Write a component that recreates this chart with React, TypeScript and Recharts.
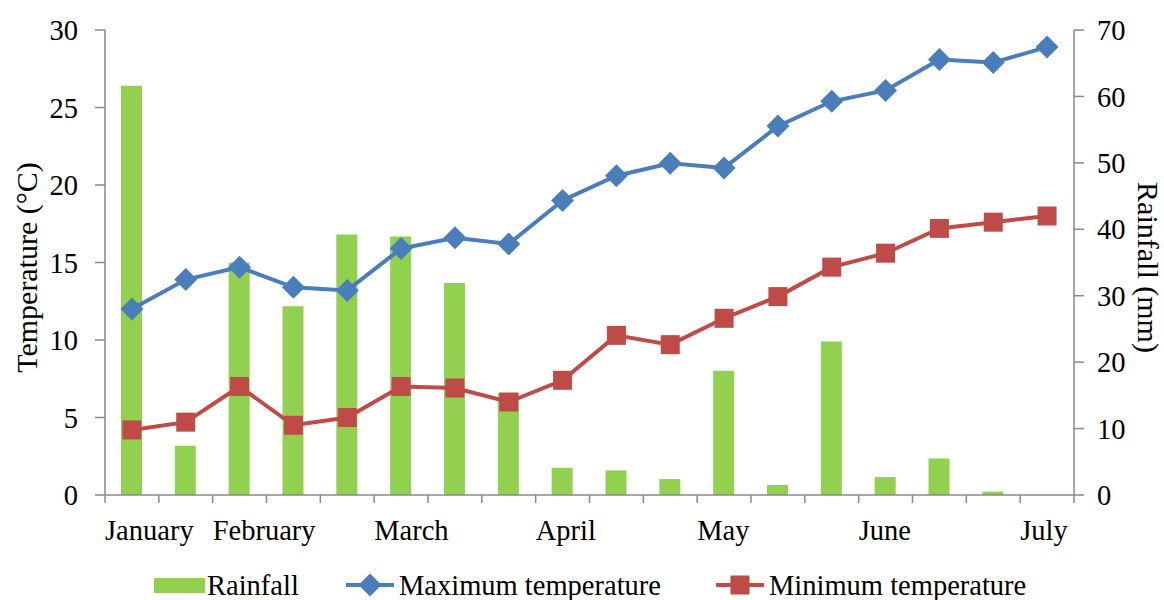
import { ComposedChart, Bar, Line, XAxis, YAxis, Legend } from "recharts";

const periods = ["January", "", "February", "", "", "March", "", "", "April", "", "", "May", "", "", "June", "", "", "July"];
const rainfall = [61.6, 7.4, 35.0, 28.4, 39.2, 38.9, 31.9, 15.3, 4.1, 3.7, 2.4, 18.7, 1.5, 23.1, 2.7, 5.5, 0.5, 0];
const maxTemp = [12.0, 13.9, 14.7, 13.4, 13.2, 15.9, 16.6, 16.2, 19.0, 20.6, 21.4, 21.1, 23.8, 25.4, 26.1, 28.1, 27.9, 28.9];
const minTemp = [4.2, 4.7, 7.0, 4.5, 5.0, 7.0, 6.9, 6.0, 7.4, 10.3, 9.7, 11.4, 12.8, 14.7, 15.6, 17.2, 17.6, 18.0];
const tempTicks = [0, 5, 10, 15, 20, 25, 30];
const rainTicks = [0, 10, 20, 30, 40, 50, 60, 70];

const data = periods.map((label, i) => ({
  slot: i,
  label,
  rainfall: rainfall[i],
  maxTemp: maxTemp[i],
  minTemp: minTemp[i],
}));

const W = 1164;
const H = 600;
const LEFT_W = 105;
const RIGHT_W = 90;
const BAND = (W - LEFT_W - RIGHT_W) / periods.length;

const GREEN = "#92D050";
const BLUE = "#4A7EBB";
const RED = "#BE4B48";
const AXIS = "#888888";
const FONT = "'Liberation Serif', 'Times New Roman', serif";
const FS = 28.5;
const TITLE_FS = 30;

function Diamond(props: any) {
  const { cx, cy } = props;
  if (cx == null || cy == null) return null;
  const r = 11.5;
  return <path d={`M${cx},${cy - r}L${cx + r},${cy}L${cx},${cy + r}L${cx - r},${cy}Z`} fill={BLUE} />;
}

function Square(props: any) {
  const { cx, cy } = props;
  if (cx == null || cy == null) return null;
  const s = 19;
  return <rect x={cx - s / 2} y={cy - s / 2} width={s} height={s} fill={RED} />;
}

function MonthTick(props: any) {
  const { x, y, payload } = props;
  const idx = payload.value;
  const label = periods[idx];
  const half = BAND / 2;
  return (
    <g>
      <line x1={x - half} x2={x - half} y1={y - 8} y2={y} stroke={AXIS} strokeWidth={1.5} />
      {idx === periods.length - 1 && (
        <line x1={x + half} x2={x + half} y1={y - 8} y2={y} stroke={AXIS} strokeWidth={1.5} />
      )}
      {label && (
        <text x={x - half} y={y + 37} textAnchor="start" fontSize={FS} fontFamily={FONT} fill="#000">
          {label}
        </text>
      )}
    </g>
  );
}

function LeftTitle(props: any) {
  const { viewBox } = props;
  const cx = viewBox.x + 26;
  const cy = viewBox.y + viewBox.height / 2 + 5;
  return (
    <text x={cx} y={cy} transform={`rotate(-90, ${cx}, ${cy})`} textAnchor="middle" dominantBaseline="central" fontSize={TITLE_FS} fontFamily={FONT} fill="#000">
      Temperature (°C)
    </text>
  );
}

function RightTitle(props: any) {
  const { viewBox } = props;
  const cx = viewBox.x + 74;
  const cy = viewBox.y + viewBox.height / 2 + 5;
  return (
    <text x={cx} y={cy} transform={`rotate(90, ${cx}, ${cy})`} textAnchor="middle" dominantBaseline="central" fontSize={TITLE_FS} fontFamily={FONT} fill="#000">
      Rainfall (mm)
    </text>
  );
}

function LegendBox() {
  return (
    <svg width={W} height={40} style={{ display: "block" }}>
      <rect x={154} y={18} width={51} height={15} fill={GREEN} />
      <text x={207} y={35} fontSize={FS} fontFamily={FONT} fill="#000">Rainfall</text>
      <line x1={346} x2={394} y1={25} y2={25} stroke={BLUE} strokeWidth={4} />
      <Diamond cx={370} cy={25} />
      <text x={399} y={35} fontSize={FS} fontFamily={FONT} fill="#000">Maximum temperature</text>
      <line x1={716} x2={764} y1={25} y2={25} stroke={RED} strokeWidth={4} />
      <Square cx={740} cy={25} />
      <text x={769} y={35} fontSize={FS} fontFamily={FONT} fill="#000">Minimum temperature</text>
    </svg>
  );
}

export default function App() {
  return (
    <div style={{ position: "absolute", left: 0, top: 0, width: W, height: H, background: "#fff" }}>
      <ComposedChart width={W} height={H} data={data} margin={{ top: 30, right: 0, bottom: 5, left: 0 }}>
        <XAxis
          dataKey="slot"
          type="category"
          interval={0}
          tickLine={false}
          tickSize={8}
          tickMargin={0}
          height={60}
          axisLine={{ stroke: AXIS, strokeWidth: 1.5 }}
          tick={<MonthTick />}
        />
        <YAxis
          yAxisId="left"
          orientation="left"
          domain={[0, 30]}
          ticks={tempTicks}
          interval={0}
          width={LEFT_W}
          tickSize={10}
          tickMargin={17}
          axisLine={{ stroke: AXIS, strokeWidth: 1.5 }}
          tickLine={{ stroke: AXIS, strokeWidth: 1.5 }}
          tick={{ fill: "#000", fontSize: FS, fontFamily: FONT }}
          label={<LeftTitle />}
        />
        <YAxis
          yAxisId="right"
          orientation="right"
          domain={[0, 70]}
          ticks={rainTicks}
          interval={0}
          width={RIGHT_W}
          tickSize={10}
          tickMargin={13}
          axisLine={{ stroke: AXIS, strokeWidth: 1.5 }}
          tickLine={{ stroke: AXIS, strokeWidth: 1.5 }}
          tick={{ fill: "#000", fontSize: FS, fontFamily: FONT }}
          label={<RightTitle />}
        />
        <Legend
          verticalAlign="bottom"
          content={<LegendBox />}
          wrapperStyle={{ left: 0, bottom: 0, width: W, height: 40 }}
        />
        <Bar yAxisId="right" dataKey="rainfall" name="Rainfall" fill={GREEN} barSize={21} isAnimationActive={false} />
        <Line
          yAxisId="left"
          dataKey="maxTemp"
          name="Maximum temperature"
          stroke={BLUE}
          strokeWidth={4}
          dot={<Diamond />}
          activeDot={false}
          isAnimationActive={false}
        />
        <Line
          yAxisId="left"
          dataKey="minTemp"
          name="Minimum temperature"
          stroke={RED}
          strokeWidth={4}
          dot={<Square />}
          activeDot={false}
          isAnimationActive={false}
        />
      </ComposedChart>
    </div>
  );
}
